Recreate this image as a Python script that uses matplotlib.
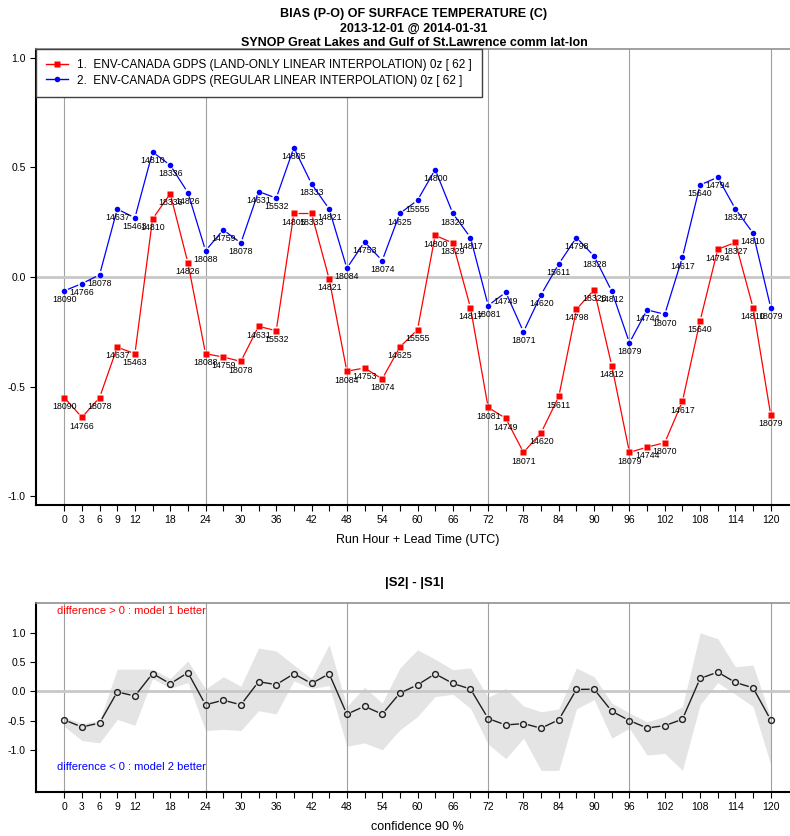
import numpy as np
import matplotlib
matplotlib.use("Agg")
import matplotlib.pyplot as plt
from matplotlib.lines import Line2D

plt.rcParams['font.family'] = ['Liberation Sans', 'DejaVu Sans']

# run hour + lead time (UTC)
hours = [0, 3, 6, 9, 12, 15, 18, 21, 24, 27, 30, 33, 36, 39, 42, 45, 48, 51, 54, 57, 60,
         63, 66, 69, 72, 75, 78, 81, 84, 87, 90, 93, 96, 99, 102, 105, 108, 111, 114, 117, 120]
xtick_labels = [0, 3, 6, 9, 12, 18, 24, 30, 36, 42, 48, 54, 60, 66, 72, 78, 84, 90, 96,
                102, 108, 114, 120]

# bias of surface temperature, model 1 (land-only) and model 2 (regular)
land_only = [-0.55, -0.64, -0.55, -0.32, -0.35, 0.265, 0.38, 0.065, -0.35, -0.365,
             -0.385, -0.225, -0.245, 0.29, 0.29, -0.01, -0.43, -0.415, -0.465, -0.32,
             -0.24, 0.19, 0.155, -0.14, -0.595, -0.645, -0.80, -0.71, -0.545, -0.147,
             -0.058, -0.405, -0.80, -0.776, -0.756, -0.567, -0.20, 0.126, 0.158, -0.14,
             -0.63]
regular = [-0.063, -0.03, 0.01, 0.31, 0.27, 0.57, 0.51, 0.385, 0.12, 0.215,
           0.155, 0.39, 0.36, 0.59, 0.425, 0.31, 0.04, 0.16, 0.075, 0.29,
           0.35, 0.49, 0.29, 0.18, -0.13, -0.07, -0.25, -0.08, 0.06, 0.18,
           0.095, -0.065, -0.30, -0.15, -0.17, 0.09, 0.42, 0.455, 0.31, 0.20,
           -0.14]

# number of observations at each hour
counts = [18090, 14766, 18078, 14637, 15463, 14810, 18336, 14826, 18088, 14759,
          18078, 14631, 15532, 14805, 18333, 14821, 18084, 14753, 18074, 14625,
          15555, 14800, 18329, 14817, 18081, 14749, 18071, 14620, 15611, 14798,
          18328, 14812, 18079, 14744, 18070, 14617, 15640, 14794, 18327, 14810,
          18079]

# 90% confidence band of |S2| - |S1|
conf_upper = [-0.44, -0.55, -0.50, 0.38, 0.38, 0.38, 0.22, 0.52, 0.04, 0.25,
              0.09, 0.74, 0.69, 0.45, 0.22, 0.80, -0.26, 0.07, -0.20, 0.40,
              0.71, 0.55, 0.37, 0.40, -0.10, 0.05, -0.25, -0.35, -0.30, 0.40,
              0.25, -0.20, -0.37, -0.52, -0.43, -0.26, 1.00, 0.90, 0.42, 0.45,
              -0.45]
conf_lower = [-0.60, -0.84, -0.88, -0.48, -0.58, 0.22, 0.05, 0.15, -0.67, -0.65,
              -0.67, -0.33, -0.385, 0.18, 0.05, 0.10, -0.94, -0.88, -1.00, -0.66,
              -0.43, -0.09, -0.05, -0.29, -0.90, -1.15, -0.80, -1.35, -1.35, -0.30,
              -0.14, -0.80, -0.63, -1.09, -1.06, -1.35, -0.23, 0.15, -0.05, -0.26,
              -1.25]

legend_labels = ["1.  ENV-CANADA GDPS (LAND-ONLY LINEAR INTERPOLATION) 0z [ 62 ]",
                 "2.  ENV-CANADA GDPS (REGULAR LINEAR INTERPOLATION) 0z [ 62 ]"]

x = np.array(hours, dtype=float)
s1 = np.array(land_only)
s2 = np.array(regular)
diff = np.abs(s2) - np.abs(s1)

W, H = 790, 836
fig = plt.figure(figsize=(W / 100, H / 100), dpi=100)


def px_axes(left, top, right, bottom):
    return fig.add_axes([left / W, 1 - bottom / H, (right - left) / W, (bottom - top) / H])


def b_line(ax, xs, ys, color, gap=4.0, lw=0.9):
    # line with small gaps next to the points
    pts = ax.transData.transform(np.column_stack([xs, ys]))
    inv = ax.transData.inverted()
    for p, q in zip(pts[:-1], pts[1:]):
        d = q - p
        L = np.hypot(*d)
        if L <= 2 * gap:
            continue
        u = d / L
        seg = inv.transform(np.array([p + u * gap, q - u * gap]))
        ax.plot(seg[:, 0], seg[:, 1], color=color, lw=lw, solid_capstyle='butt', zorder=3)


def style_axes(ax, yticks, ylabels):
    ax.set_xlim(-4.8, 124.8)
    for v in range(0, 121, 24):
        ax.axvline(v, color='#a0a0a0', lw=0.8, zorder=1)
    ax.axhline(0, color='#c8c8c8', lw=2.0, zorder=1)
    ax.set_xticks(hours)
    ax.set_xticklabels([str(h) if h in xtick_labels else '' for h in hours])
    ax.set_yticks(yticks)
    ax.set_yticklabels(ylabels)
    ax.tick_params(axis='both', direction='out', length=4, width=0.8, labelsize=7.5,
                   colors='black')
    ax.tick_params(axis='x', pad=3)
    ax.spines['right'].set_visible(False)
    ax.spines['top'].set_color('#909090')
    ax.spines['top'].set_linewidth(1.2)
    ax.spines['left'].set_linewidth(1.5)
    ax.spines['bottom'].set_linewidth(1.5)


# ---- top panel: bias ----
ax1 = px_axes(36, 49, 799, 505)
ax1.set_ylim(-1.04, 1.04)
style_axes(ax1, [-1.0, -0.5, 0.0, 0.5, 1.0], ['-1.0', '-0.5', '0.0', '0.5', '1.0'])

b_line(ax1, x, s1, '#ff0000')
b_line(ax1, x, s2, '#0000ff')
ax1.plot(x, s1, 's', color='#ff0000', ms=3.8, mec='none', zorder=4)
ax1.plot(x, s2, 'o', color='#0000ff', ms=4.0, mec='none', zorder=4)

for xi, yi, c in zip(x, s1, counts):
    ax1.annotate(str(c), (xi, yi), xytext=(0, -6.3), textcoords='offset points',
                 ha='center', va='center', fontsize=6.3, zorder=5)
for xi, yi, c in zip(x, s2, counts):
    ax1.annotate(str(c), (xi, yi), xytext=(0, -6.3), textcoords='offset points',
                 ha='center', va='center', fontsize=6.3, zorder=5)

handles = [Line2D([], [], color='#ff0000', marker='s', ms=3.8, mec='none', lw=1),
           Line2D([], [], color='#0000ff', marker='o', ms=4.0, mec='none', lw=1)]
leg = ax1.legend(handles, legend_labels, loc='upper left', bbox_to_anchor=(0, 1),
                 borderaxespad=0, fancybox=False, edgecolor='#404040', framealpha=1,
                 fontsize=8.5, handlelength=1.9, handletextpad=0.7, borderpad=0.85,
                 labelspacing=0.3)
leg.get_frame().set_linewidth(1.0)
leg.set_zorder(6)

ax1.set_xlabel('Run Hour + Lead Time (UTC)', fontsize=9, labelpad=7)

fig.text(414 / W, 1 - 14 / H, 'BIAS (P-O) OF SURFACE TEMPERATURE (C)', ha='center',
         va='center', fontsize=9, fontweight='bold')
fig.text(414 / W, 1 - 29 / H, '2013-12-01 @ 2014-01-31', ha='center', va='center',
         fontsize=9, fontweight='bold')
fig.text(414 / W, 1 - 43 / H, 'SYNOP Great Lakes and Gulf of St.Lawrence comm lat-lon',
         ha='center', va='center', fontsize=9, fontweight='bold')

# ---- bottom panel: |S2| - |S1| ----
ax2 = px_axes(36, 603, 799, 792)
ax2.set_ylim(-1.72, 1.51)
style_axes(ax2, [-1.0, -0.5, 0.0, 0.5, 1.0], ['-1.0', '-0.5', '0.0', '0.5', '1.0'])
ax2.fill_between(x, conf_lower, conf_upper, color='#e4e4e4', lw=0, zorder=0.5)
b_line(ax2, x, diff, '#202020', gap=4.5, lw=1.0)
ax2.plot(x, diff, 'o', mfc='none', mec='#202020', mew=1.0, ms=4.2, zorder=4)

ax2.text(-1.3, 1.38, 'difference > 0 : model 1 better', color='#ff0000', fontsize=8,
         ha='left', va='center')
ax2.text(-1.3, -1.29, 'difference < 0 : model 2 better', color='#0000ff', fontsize=8,
         ha='left', va='center')
ax2.set_xlabel('confidence 90 %', fontsize=9, labelpad=7)

fig.text(414 / W, 1 - 583 / H, '|S2| - |S1|', ha='center', va='center', fontsize=9.5,
         fontweight='bold')

fig.savefig('out.png', dpi=100)
